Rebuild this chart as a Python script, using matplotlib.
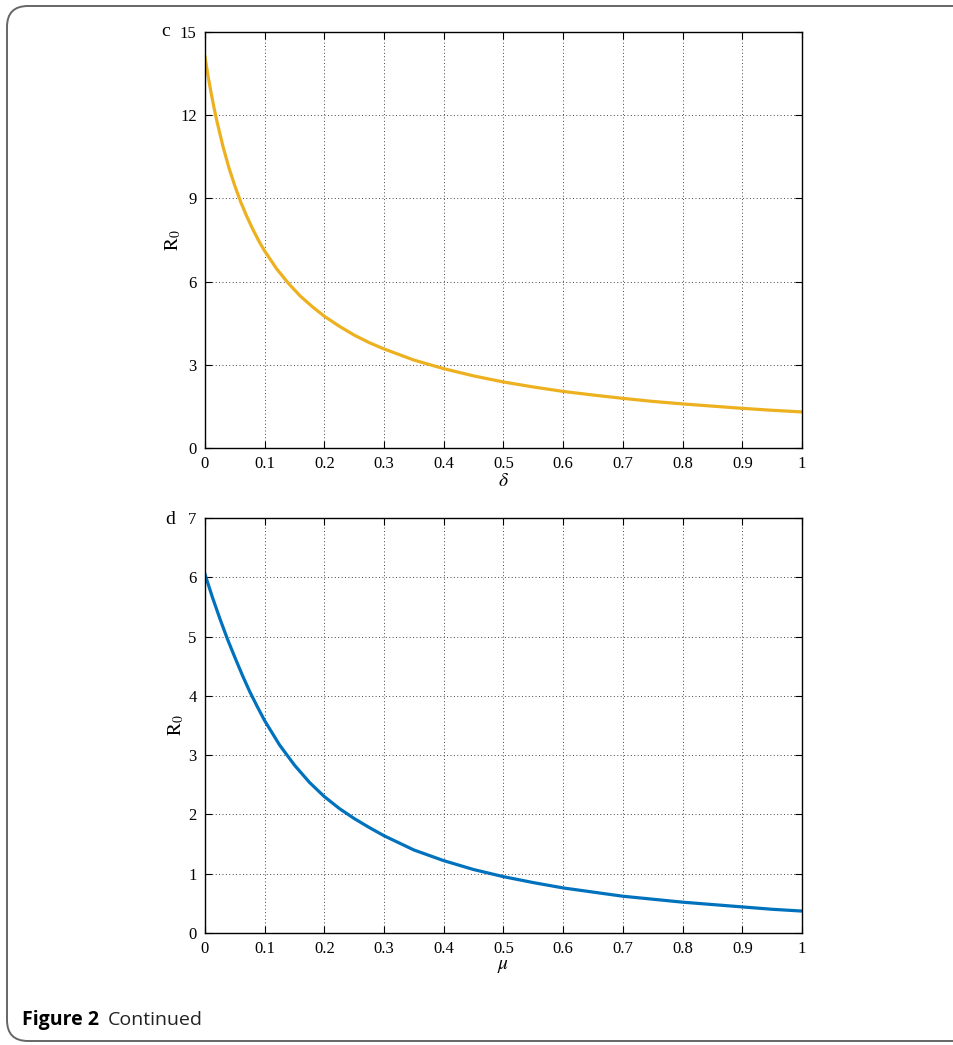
import matplotlib
matplotlib.use("Agg")
import matplotlib.pyplot as plt
from matplotlib.patches import FancyBboxPatch

plt.rcParams["mathtext.fontset"] = "stix"

# ---- data ----
delta_vals = [0, 0.005, 0.01, 0.015, 0.02, 0.03, 0.04, 0.05, 0.06, 0.07, 0.08,
              0.09, 0.1, 0.12, 0.14, 0.16, 0.18, 0.2, 0.225, 0.25, 0.275, 0.3,
              0.35, 0.4, 0.45, 0.5, 0.55, 0.6, 0.65, 0.7, 0.75, 0.8, 0.85, 0.9,
              0.95, 1.0]
r0_delta = [14.1, 13.43, 12.83, 12.28, 11.78, 10.88, 10.11, 9.45, 8.86, 8.35, 7.89,
            7.47, 7.10, 6.46, 5.93, 5.47, 5.09, 4.75, 4.39, 4.07, 3.80, 3.57,
            3.17, 2.86, 2.60, 2.38, 2.20, 2.04, 1.91, 1.79, 1.68, 1.59, 1.51, 1.43,
            1.36, 1.30]

mu_vals = [0, 0.0125, 0.025, 0.0375, 0.05, 0.0625, 0.075, 0.0875, 0.1, 0.125,
           0.15, 0.175, 0.2, 0.225, 0.25, 0.275, 0.3, 0.35, 0.4, 0.45, 0.5,
           0.55, 0.6, 0.65, 0.7, 0.75, 0.8, 0.85, 0.9, 0.95, 1.0]
r0_mu = [6.05, 5.66, 5.30, 4.96, 4.65, 4.35, 4.07, 3.82, 3.58, 3.17,
         2.83, 2.54, 2.30, 2.10, 1.93, 1.78, 1.64, 1.40, 1.22, 1.07, 0.95,
         0.85, 0.76, 0.69, 0.62, 0.57, 0.52, 0.48, 0.44, 0.40, 0.37]

x_ticks = [0, 0.1, 0.2, 0.3, 0.4, 0.5, 0.6, 0.7, 0.8, 0.9, 1]
x_ticklabels = ["0", "0.1", "0.2", "0.3", "0.4", "0.5", "0.6", "0.7", "0.8", "0.9", "1"]
y_ticks_c = [0, 3, 6, 9, 12, 15]
y_ticks_d = [0, 1, 2, 3, 4, 5, 6, 7]

W, H = 954, 1045
fig = plt.figure(figsize=(W / 100, H / 100), dpi=100)
serif = "Liberation Serif"

# rounded frame
frame = FancyBboxPatch((7 / W, 4 / H), 1.2, (1 - 10 / H), transform=fig.transFigure,
                       boxstyle="round,pad=0,rounding_size=0.022",
                       facecolor="none", edgecolor="#666666", linewidth=1.4,
                       mutation_aspect=W / H)
fig.patches.append(frame)


def setup(ax, yticks, ylim, xlabel, ylabelpad):
    ax.set_xlim(0, 1)
    ax.set_ylim(*ylim)
    ax.set_xticks(x_ticks)
    ax.set_xticklabels(x_ticklabels)
    ax.set_yticks(yticks)
    ax.set_yticklabels([str(v) for v in yticks])
    ax.tick_params(direction="in", top=True, right=True, length=5, width=0.8,
                   labelsize=12, pad=6)
    for lab in ax.get_xticklabels() + ax.get_yticklabels():
        lab.set_fontfamily(serif)
    ax.grid(True, linestyle=(0, (1, 2.5)), color="#444444", linewidth=0.7)
    for s in ax.spines.values():
        s.set_linewidth(1.0)
    ax.set_xlabel(xlabel, fontsize=14, labelpad=-1)
    ax.set_ylabel(r"$\mathrm{R}_{0}$", fontsize=14, labelpad=ylabelpad)


ax1 = fig.add_axes([205 / W, 1 - 448 / H, 597 / W, 416 / H])
ax1.plot(delta_vals, r0_delta, color="#EDB120", linewidth=2.3,
         solid_joinstyle="round")
setup(ax1, y_ticks_c, (0, 15), r"$\delta$", -2)
fig.text(166 / W, 1 - 32 / H, "c", fontfamily=serif, fontsize=14, ha="center", va="center")

ax2 = fig.add_axes([205 / W, 1 - 933 / H, 597 / W, 415 / H])
ax2.plot(mu_vals, r0_mu, color="#0072BD", linewidth=2.3,
         solid_joinstyle="round")
setup(ax2, y_ticks_d, (0, 7), r"$\mu$", 2)
fig.text(170 / W, 1 - 519 / H, "d", fontfamily=serif, fontsize=14, ha="center", va="center")

# caption
t1 = fig.text(22 / W, 1 - 1020 / H, "Figure 2", fontfamily="Open Sans",
              fontweight="bold", fontsize=14, va="center", ha="left")
fig.canvas.draw()
bb = t1.get_window_extent()
fig.text((bb.x1 + 9) / W, 1 - 1020 / H, "Continued", fontfamily="Open Sans",
         fontsize=14, va="center", ha="left", color="#222222")

fig.savefig("out.png", dpi=100)
